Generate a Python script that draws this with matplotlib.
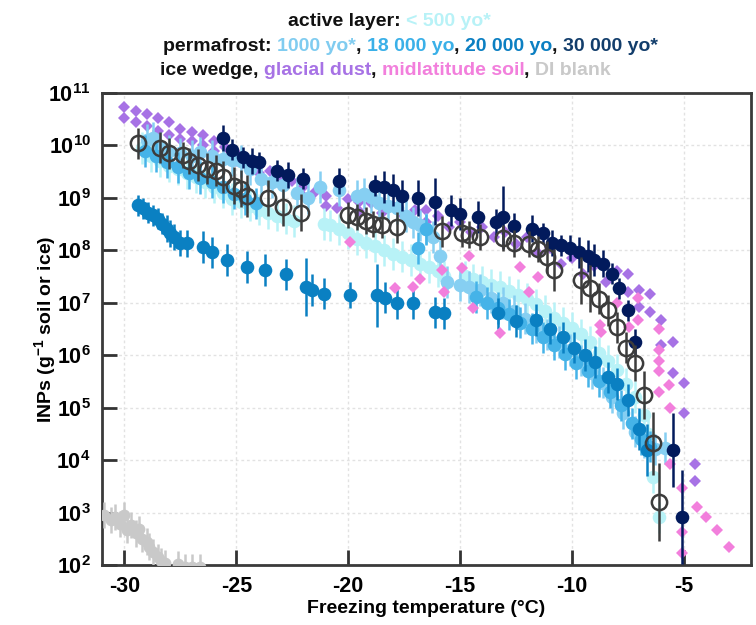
import numpy as np
import matplotlib
matplotlib.use("Agg")
import matplotlib.pyplot as plt
from matplotlib.ticker import FixedLocator, FixedFormatter, NullLocator

plt.rcParams['font.family'] = ['Liberation Sans', 'DejaVu Sans']
plt.rcParams['font.weight'] = 'bold'
plt.rcParams['mathtext.fontset'] = 'custom'
plt.rcParams['mathtext.rm'] = 'Liberation Sans:bold'
plt.rcParams['mathtext.bf'] = 'Liberation Sans:bold'
plt.rcParams['mathtext.default'] = 'bf'
plt.rcParams['axes.unicode_minus'] = False

# ---- dados (T em °C, INPs por g) ----
# active layer < 500 yo*
t_500 = [-29.2, -28.8, -28.4, -28.0, -27.6, -27.2, -26.8, -26.4, -26.0, -25.6, -25.2, -24.8,
         -24.4, -24.0, -23.6, -23.2, -22.8, -22.4, -21.1, -20.8, -20.4, -20.0, -19.6, -19.2,
         -18.8, -18.4, -18.0, -17.6, -17.2, -16.8, -16.4, -16.0, -15.7, -14.8, -14.4, -14.0,
         -13.6, -13.2, -12.8, -12.4, -12.0, -11.6, -11.2, -10.8, -10.4, -10.0, -9.6, -9.2,
         -8.8, -8.4, -8.0, -7.6, -7.2, -6.8, -6.6, -6.4, -6.1]
inp_500 = [8.9e9, 6.3e9, 5.0e9, 4.0e9, 3.5e9, 3.0e9, 2.5e9, 2.0e9, 1.6e9, 1.26e9, 9.5e8, 8.3e8,
           7.1e8, 6.0e8, 5.2e8, 4.6e8, 4.0e8, 3.6e8, 3.2e8, 3.0e8, 2.5e8, 2.1e8, 1.65e8, 1.4e8,
           1.2e8, 1.0e8, 8.5e7, 7.6e7, 6.6e7, 5.6e7, 4.8e7, 4.0e7, 3.2e7, 3.2e7, 2.8e7, 2.5e7,
           2.2e7, 2.0e7, 1.65e7, 1.4e7, 1.2e7, 9.3e6, 7.1e6, 5.2e6, 4.2e6, 3.3e6, 2.5e6, 1.8e6,
           1.1e6, 7.9e5, 5.2e5, 2.8e5, 1.6e5, 7.1e4, 3.2e4, 4.8e3, 8.1e2]

# permafrost 1000 yo*
t_1000 = [-29.0, -28.7, -28.4, -28.0, -27.5, -27.0, -26.6, -26.1, -25.6, -25.2, -24.8, -24.4,
          -23.9, -23.4, -22.9, -22.3, -21.8, -21.25, -20.4, -19.6, -19.3, -19.0, -18.6, -18.2,
          -17.8, -17.4, -17.1, -16.8, -16.5, -16.2, -15.9, -15.6, -15.0, -14.6, -14.1, -13.6,
          -13.1, -12.6, -12.1, -11.6, -11.1, -10.6, -10.1, -9.6, -9.1, -8.6, -8.2, -7.7,
          -7.2, -6.8, -6.3, -5.85]
inp_1000 = [1.26e10, 1.4e10, 8.9e9, 7.9e9, 7.1e9, 6.3e9, 7.4e9, 6.3e9, 5.6e9, 5.2e9, 5.0e9, 3.5e9,
            2.3e9, 2.0e9, 1.75e9, 1.26e9, 1.0e9, 1.6e9, 1.4e9, 1.1e9, 1.2e9, 1.05e9, 8.1e8, 7.1e8,
            6.3e8, 4.5e8, 3.4e8, 3.0e8, 2.6e8, 1.8e8, 7.9e7, 2.5e7, 2.2e7, 2.0e7, 1.75e7, 1.26e7,
            1.0e7, 7.1e6, 5.0e6, 3.4e6, 2.5e6, 1.8e6, 1.26e6, 7.9e5, 4.5e5, 3.0e5, 1.6e5, 7.9e4,
            3.5e4, 2.2e4, 1.6e4, 1.7e4]

# permafrost 18 000 yo
t_18k = [-29.1, -28.6, -28.1, -27.6, -27.1, -26.6, -26.1, -25.6, -25.1, -24.6, -24.1,
         -16.9, -16.5, -14.3, -13.8, -13.3, -12.8, -12.3, -11.8, -11.3, -10.8, -10.3, -9.8,
         -9.3, -8.8, -8.3, -7.8, -7.3, -6.9, -6.5]
inp_18k = [7.9e9, 6.3e9, 4.8e9, 3.8e9, 3.0e9, 2.4e9, 2.0e9, 1.6e9, 1.2e9, 9.5e8, 7.9e8,
           1.1e8, 2.5e8, 1.3e7, 1.0e7, 7.9e6, 6.0e6, 4.2e6, 3.2e6, 2.2e6, 1.6e6, 1.05e6, 7.1e5,
           5.0e5, 3.2e5, 2.0e5, 1.1e5, 5.0e4, 2.5e4, 1.8e4]

# permafrost 20 000 yo
t_20k = [-29.4, -29.15, -28.95, -28.7, -28.5, -28.3, -28.1, -27.95, -27.8, -27.5, -27.2, -26.5,
         -26.1, -25.4, -24.5, -23.7, -22.8, -21.9, -21.6, -21.1, -19.9, -18.7, -18.35, -17.8,
         -17.1, -16.1, -15.7, -13.3, -12.5, -11.6, -11.0, -10.4, -9.9, -9.4, -8.95, -8.4,
         -8.0, -7.5, -7.0, -6.65]
inp_20k = [7.2e8, 6.3e8, 5.2e8, 4.7e8, 4.0e8, 3.2e8, 2.6e8, 2.1e8, 1.8e8, 1.4e8, 1.35e8, 1.15e8,
           9.1e7, 6.5e7, 4.8e7, 4.2e7, 3.5e7, 2.0e7, 1.75e7, 1.5e7, 1.4e7, 1.4e7, 1.26e7, 9.8e6,
           9.8e6, 6.6e6, 6.3e6, 6.3e6, 4.5e6, 4.7e6, 3.2e6, 2.2e6, 1.4e6, 1.0e6, 7.4e5, 3.8e5,
           2.8e5, 1.4e5, 4.0e4, 1.55e4]
err_20k = [0.2, 0.2, 0.2, 0.2, 0.2, 0.2, 0.25, 0.25, 0.25, 0.25, 0.25, 0.3,
           0.3, 0.3, 0.3, 0.3, 0.3, 0.55, 0.3, 0.3, 0.25, 0.6, 0.3, 0.3,
           0.3, 0.3, 0.3, 0.3, 0.3, 0.3, 0.3, 0.3, 0.3, 0.3, 0.3, 0.3,
           0.3, 0.3, 0.4, 0.5]

# permafrost 30 000 yo*
t_30k = [-25.6, -25.2, -24.7, -24.3, -24.0, -23.2, -22.7, -22.0, -20.4, -18.8, -18.4, -18.0,
         -17.6, -16.9, -16.1, -15.4, -15.0, -14.2, -13.4, -13.1, -12.6, -11.8, -11.3, -10.9,
         -10.5, -10.1, -9.7, -9.3, -9.0, -8.6, -8.2, -7.9, -7.5, -7.2, -5.5, -5.1]
inp_30k = [1.4e10, 8.3e9, 5.9e9, 5.1e9, 4.8e9, 3.3e9, 2.7e9, 2.3e9, 2.1e9, 1.7e9, 1.6e9, 1.4e9,
           1.1e9, 1.0e9, 8.5e8, 5.8e8, 4.9e8, 4.3e8, 3.5e8, 4.3e8, 2.9e8, 2.6e8, 2.1e8, 1.4e8,
           1.26e8, 1.1e8, 9.1e7, 7.8e7, 6.5e7, 5.6e7, 3.6e7, 1.9e7, 7.2e6, 1.8e6, 1.55e4, 8.2e2]
err_30k = [0.25, 0.2, 0.2, 0.25, 0.2, 0.2, 0.25, 0.2, 0.25, 0.2, 0.3, 0.3,
           0.3, 0.35, 0.45, 0.3, 0.3, 0.3, 0.25, 0.6, 0.25, 0.25, 0.2, 0.25,
           0.2, 0.25, 0.3, 0.3, 0.3, 0.25, 0.2, 0.2, 0.2, 0.25, 0.7, 0.9]

# ice wedge
t_ice = [-29.4, -28.4, -28.0, -27.4, -27.1, -26.7, -26.3, -25.9, -25.6, -25.1, -24.8, -24.5,
         -23.6, -22.9, -22.1, -20.0, -19.6, -19.2, -18.9, -18.5, -17.8, -15.8, -14.9, -14.6,
         -14.1, -13.1, -12.6, -11.9, -11.5, -11.1, -10.8, -9.6, -9.2, -8.8, -8.4, -8.0,
         -7.6, -7.2, -6.8, -6.4, -6.1]
inp_ice = [1.1e10, 9.1e9, 7.1e9, 6.5e9, 5.0e9, 4.2e9, 3.6e9, 3.3e9, 2.5e9, 1.7e9, 1.5e9, 1.1e9,
           1.0e9, 6.6e8, 5.2e8, 4.7e8, 4.3e8, 3.7e8, 3.2e8, 3.0e8, 2.75e8, 2.3e8, 2.1e8, 2.0e8,
           1.8e8, 1.7e8, 1.35e8, 1.3e8, 1.05e8, 7.4e7, 4.2e7, 2.7e7, 1.9e7, 1.2e7, 7.2e6, 3.4e6,
           1.4e6, 7.1e5, 1.75e5, 2.1e4, 1.6e3]
err_ice = [0.3, 0.3, 0.3, 0.25, 0.25, 0.3, 0.3, 0.3, 0.3, 0.35, 0.35, 0.4,
           0.35, 0.35, 0.35, 0.25, 0.25, 0.25, 0.25, 0.25, 0.3, 0.3, 0.25, 0.25,
           0.25, 0.25, 0.25, 0.25, 0.25, 0.3, 0.4, 0.45, 0.45, 0.3, 0.3, 0.3,
           0.3, 0.35, 0.45, 0.6, 0.75]

# glacial dust (duas curvas)
t_dust = [-30.0, -29.5, -29.0, -28.5, -28.0, -27.5, -27.0, -26.5, -26.0, -25.5, -25.0, -24.5,
          -24.0, -23.5, -23.0, -22.5, -22.0, -21.5, -21.0, -20.0, -19.5, -19.0, -18.0, -17.0,
          -16.5, -16.0, -15.0, -14.0, -13.0, -12.0, -11.0, -10.0, -9.0, -8.0, -7.5, -7.0,
          -6.5, -6.0, -5.5, -5.0, -4.5,
          -30.0, -29.5, -29.0, -28.5, -28.0, -27.5, -27.0, -26.5, -26.0, -25.0, -24.0, -23.0,
          -22.0, -21.0, -20.5, -19.5, -18.5, -17.5, -16.5, -15.5, -14.5, -13.5, -12.5, -11.5,
          -10.5, -9.5, -8.5, -7.5, -7.0, -6.5, -6.0, -5.5, -5.0, -4.5]
inp_dust = [5.5e10, 4.5e10, 3.9e10, 3.4e10, 2.75e10, 2.1e10, 1.8e10, 1.6e10, 1.2e10, 9.3e9, 7.1e9, 5.2e9,
            4.0e9, 3.2e9, 2.6e9, 2.1e9, 1.6e9, 1.3e9, 1.1e9, 9.5e8, 8.5e8, 7.9e8, 7.1e8, 6.0e8,
            5.8e8, 4.5e8, 3.5e8, 2.8e8, 2.2e8, 1.8e8, 1.1e8, 7.1e7, 5.0e7, 4.0e7, 3.6e7, 1.75e7,
            1.5e7, 4.7e6, 1.8e6, 3.0e5, 8.3e3,
            3.4e10, 2.75e10, 2.3e10, 1.9e10, 1.6e10, 1.35e10, 1.2e10, 1.0e10, 7.9e9, 5.0e9, 3.0e9, 1.8e9,
            1.1e9, 7.1e8, 6.3e8, 5.6e8, 5.2e8, 4.5e8, 3.5e8, 2.8e8, 2.2e8, 1.8e8, 1.3e8, 8.9e7,
            5.6e7, 3.5e7, 2.5e7, 1.6e7, 8.3e6, 6.6e6, 1.55e6, 4.6e5, 7.9e4, 4.0e3]

# midlatitude soil
t_soil = [-19.9, -17.9, -17.1, -16.8, -15.8, -15.7, -14.9, -14.6, -14.4, -13.2, -12.3, -11.9,
          -11.5, -8.75, -8.7, -8.0, -7.45, -7.05, -7.05, -6.1, -6.1, -6.1, -6.1, -6.1,
          -5.65, -5.6, -5.6, -5.1, -5.1, -5.1, -4.4, -4.0, -3.5, -3.0]
inp_soil = [1.45e8, 1.9e7, 2.0e7, 2.8e7, 4.2e7, 1.6e7, 4.6e7, 7.8e7, 7.9e6, 2.6e6, 4.8e7, 1.6e7,
            3.1e7, 3.7e6, 2.75e6, 1.0e7, 3.4e6, 1.26e7, 4.7e6, 3.2e6, 1.26e6, 7.9e5, 5.1e5, 2.0e5,
            2.7e5, 9.8e4, 8.3e3, 3.0e3, 4.3e2, 1.7e2, 1.3e3, 8.1e2, 4.7e2, 2.2e2]

# DI blank
t_blank = [-30.9, -30.6, -30.4, -30.2, -30.0, -29.9, -29.7, -29.5, -29.35, -29.2, -29.0, -28.9,
           -28.7, -28.5, -28.35, -28.2, -27.6, -27.3, -27.0, -26.6]
inp_blank = [890, 710, 810, 600, 890, 470, 575, 400, 480, 320, 280, 225,
             180, 140, 120, 107, 105, 90, 90, 90]

x_ticks = [-30, -25, -20, -15, -10, -5]
x_tick_labels = ['-30', '-25', '-20', '-15', '-10', '-5']
y_ticks = [1e2, 1e3, 1e4, 1e5, 1e6, 1e7, 1e8, 1e9, 1e10, 1e11]
y_tick_labels = ['$10^{2}$', '$10^{3}$', '$10^{4}$', '$10^{5}$', '$10^{6}$',
                 '$10^{7}$', '$10^{8}$', '$10^{9}$', '$10^{10}$', '$10^{11}$']

c_500 = '#b8f2f7'
c_1000 = '#86cff2'
c_18k = '#45b3e8'
c_20k = '#0a80c2'
c_30k = '#021a5c'
c_ice = '#3c3c3c'
c_dust = '#a772e5'
c_soil = '#f27fdc'
c_blank = '#c9c9c9'

fig = plt.figure(figsize=(7.56, 6.25), dpi=100)
ax = fig.add_axes([0.1349, 0.096, 0.8585, 0.7552])


def serie(t, v, err, cor, z, ms=9.8, aberto=False):
    v = np.array(v)
    e = np.array(err) * np.ones(len(v))
    yerr = [v - v / 10**e, v * 10**e - v]
    if aberto:
        ax.errorbar(t, v, yerr=yerr, fmt='o', ms=ms, mfc='none', mec=cor, mew=1.8,
                    ecolor=cor, elinewidth=1.8, capsize=0, zorder=z)
    else:
        ax.errorbar(t, v, yerr=yerr, fmt='o', ms=ms, mfc=cor, mec=cor, mew=0,
                    ecolor=cor, elinewidth=1.8, capsize=0, zorder=z)


ax.plot(t_dust, inp_dust, 'D', ms=6, color=c_dust, mew=0, zorder=2)
serie(t_blank, inp_blank, 0.25, c_blank, 3, ms=8.5)
serie(t_500, inp_500, 0.3, c_500, 3)
serie(t_1000, inp_1000, 0.3, c_1000, 4)
serie(t_18k, inp_18k, 0.3, c_18k, 4.5)
serie(t_20k, inp_20k, err_20k, c_20k, 5)
ax.plot(t_soil, inp_soil, 'D', ms=6, color=c_soil, mew=0, zorder=6)
serie(t_30k, inp_30k, err_30k, c_30k, 7)
serie(t_ice, inp_ice, err_ice, c_ice, 8, ms=11, aberto=True)

ax.set_yscale('log')
ax.set_xlim(-31, -2)
ax.set_ylim(1e2, 1e11)
ax.xaxis.set_major_locator(FixedLocator(x_ticks))
ax.xaxis.set_major_formatter(FixedFormatter(x_tick_labels))
ax.yaxis.set_major_locator(FixedLocator(y_ticks))
ax.yaxis.set_major_formatter(FixedFormatter(y_tick_labels))
ax.yaxis.set_minor_locator(NullLocator())
ax.tick_params(direction='in', length=11, width=2, color='#333333', labelsize=15.5, pad=8)
ax.grid(True, color='#e2e2e2', linestyle=(0, (2, 2)), linewidth=1)
ax.set_axisbelow(True)
for s in ax.spines.values():
    s.set_linewidth(2)
    s.set_color('#3a3a3a')

ax.set_xlabel('Freezing temperature (°C)', fontsize=14, fontweight='bold')
ax.set_ylabel('INPs (g$^{-1}$ soil or ice)', fontsize=14, fontweight='bold')
ax.xaxis.set_label_coords(0.5, -0.074)
ax.yaxis.set_label_coords(-0.068, 0.5)

# titulo em tres linhas coloridas
renderer = fig.canvas.get_renderer()
W = fig.get_figwidth() * fig.dpi


def largura(s):
    t = fig.text(0, 0, s + '|', fontsize=14, fontweight='bold')
    w = t.get_window_extent(renderer).width
    t.remove()
    t = fig.text(0, 0, '|', fontsize=14, fontweight='bold')
    w -= t.get_window_extent(renderer).width
    t.remove()
    return w


def linha(x0, y, partes):
    prefixo = ''
    for s, c in partes:
        x = x0 + largura(prefixo) / W if prefixo else x0
        fig.text(x, y, s, color=c, fontsize=14, fontweight='bold', va='baseline')
        prefixo += s


k = '#111111'
linha(288 / 756, 1 - 26 / 625, [('active layer: ', k), ('< 500 yo*', c_500)])
linha(163 / 756, 1 - 51 / 625, [('permafrost: ', k), ('1000 yo*', '#80ccf0'), (', ', k),
                                 ('18 000 yo', '#3ab0e8'), (', ', k), ('20 000 yo', '#0b7fc2'),
                                 (', ', k), ('30 000 yo*', '#123d6b')])
linha(160 / 756, 1 - 75 / 625, [('ice wedge', k), (', ', k), ('glacial dust', c_dust), (', ', k),
                                 ('midlatitude soil', c_soil), (', ', k), ('DI blank', c_blank)])

fig.savefig('out.png', dpi=100)
